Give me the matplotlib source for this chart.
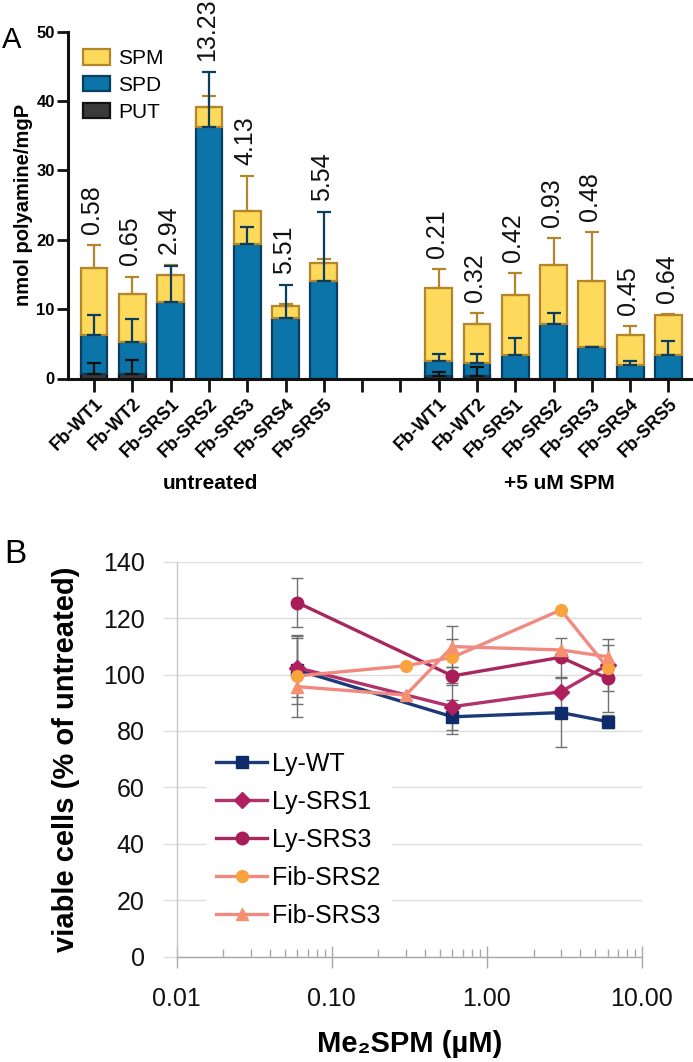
import numpy as np
import matplotlib
matplotlib.use("Agg")
import matplotlib.pyplot as plt
import matplotlib.transforms as mtrans
from matplotlib.patches import Patch
from matplotlib.ticker import FixedLocator, LogLocator, NullFormatter

plt.rcParams['font.family'] = ['Liberation Sans', 'DejaVu Sans']

# ---------------- Panel A data ----------------
cell_lines = ["Fb-WT1", "Fb-WT2", "Fb-SRS1", "Fb-SRS2", "Fb-SRS3", "Fb-SRS4", "Fb-SRS5"]
groups = ["untreated", "+5 uM SPM"]

put_untreated = [0.6, 0.7, 0.0, 0.0, 0.0, 0.0, 0.0]
spd_untreated = [5.6, 4.6, 11.1, 36.3, 19.4, 8.7, 14.1]
spm_untreated = [9.7, 6.9, 3.8, 2.8, 4.8, 1.7, 2.5]
put_err_untreated = [1.7, 2.0, 0.0, 0.0, 0.0, 0.0, 0.0]
spd_err_untreated = [2.9, 3.3, 5.1, 7.9, 2.5, 4.8, 9.9]
spm_err_untreated = [3.4, 2.5, 1.5, 1.7, 5.0, 0.3, 0.7]
ratio_untreated = ["0.58", "0.65", "2.94", "13.23", "4.13", "5.51", "5.54"]

put_treated = [0.3, 0.4, 0.0, 0.0, 0.0, 0.0, 0.0]
spd_treated = [2.2, 1.8, 3.4, 7.8, 4.5, 1.9, 3.4]
spm_treated = [10.6, 5.7, 8.7, 8.5, 9.5, 4.4, 5.7]
put_err_treated = [0.7, 1.2, 0.0, 0.0, 0.0, 0.0, 0.0]
spd_err_treated = [1.1, 1.4, 2.4, 1.6, 0.1, 0.6, 2.0]
spm_err_treated = [2.7, 1.5, 3.1, 4.0, 7.1, 1.2, 0.2]
ratio_treated = ["0.21", "0.32", "0.42", "0.93", "0.48", "0.45", "0.64"]

# ---------------- Panel B data ----------------
dose_ly = [0.06, 0.6, 3, 6]
dose_fib = [0.06, 0.3, 0.6, 3, 6]
ly_wt = [101.6, 85.0, 86.5, 83.3]
ly_wt_err = [12.0, 6.0, 12.3, 2.4]
ly_srs1 = [102.4, 88.6, 93.9, 103.4]
ly_srs1_err = [10.4, 8.3, 0.0, 9.2]
ly_srs3 = [125.5, 99.5, 106.1, 98.6]
ly_srs3_err = [8.8, 3.2, 7.0, 11.9]
fib_srs2 = [99.5, 103.1, 106.1, 122.9, 102.4]
fib_srs2_err = [14.5, 0.0, 6.6, 0.0, 0.0]
fib_srs3 = [95.7, 92.7, 109.9, 108.7, 106.3]
fib_srs3_err = [0.0, 0.0, 7.2, 0.0, 0.0]

W, H = 693, 1062
fig = plt.figure(figsize=(W / 100, H / 100), dpi=100)

# ================= Panel A =================
axA = fig.add_axes([68 / W, 1 - 378.5 / H, (W - 68) / W, (378.5 - 31.7) / H])

pos_u = np.arange(len(cell_lines))
pos_t = np.arange(len(cell_lines)) + len(cell_lines) + 2
positions = np.concatenate([pos_u, pos_t])
put = np.array(put_untreated + put_treated)
spd = np.array(spd_untreated + spd_treated)
spm = np.array(spm_untreated + spm_treated)
put_e = np.array(put_err_untreated + put_err_treated)
spd_e = np.array(spd_err_untreated + spd_err_treated)
spm_e = np.array(spm_err_untreated + spm_err_treated)
ratios = ratio_untreated + ratio_treated

c_spm, e_spm = "#fdd95c", "#b3862c"
c_spd, e_spd = "#0b74a8", "#0a3d5e"
c_put, e_put = "#3a3a3a", "#111111"
bw = 0.7
lw = 1.6

axA.bar(positions, put, bw, color=c_put, edgecolor=e_put, linewidth=lw, zorder=2)
axA.bar(positions, spd, bw, bottom=put, color=c_spd, edgecolor=e_spd, linewidth=lw, zorder=2)
axA.bar(positions, spm, bw, bottom=put + spd, color=c_spm, edgecolor=e_spm, linewidth=lw, zorder=2)

top_put = put
top_spd = put + spd
top_spm = put + spd + spm
for tops, errs, col in [(top_spm, spm_e, e_spm), (top_spd, spd_e, e_spd), (top_put, put_e, "#111111")]:
    m = errs > 0
    axA.errorbar(positions[m], tops[m], yerr=[np.zeros(m.sum()), errs[m]], fmt="none",
                 ecolor=col, elinewidth=1.6, capsize=5.2, capthick=1.6, zorder=3)

label_base = np.maximum.reduce([top_spm + spm_e, top_spd + spd_e])
for x, yb, t in zip(positions, label_base, ratios):
    axA.text(x - 0.05, yb + 1.6, t, rotation=90, ha="center", va="bottom", fontsize=18,
             color="#111111", clip_on=False)

axA.set_xlim(-0.68, 15.64)
axA.set_ylim(0, 50)
axA.set_yticks([0, 10, 20, 30, 40, 50])
axA.set_xticks(np.arange(0, 16))
xt_labels = cell_lines + ["", ""] + cell_lines
axA.set_xticklabels(xt_labels, rotation=45, ha="right", va="top", rotation_mode="anchor",
                    fontsize=13, fontweight="bold")
for lab in axA.get_yticklabels():
    lab.set_fontweight("bold")
axA.tick_params(axis="y", labelsize=12, width=2, length=8, pad=1.5, color="#111111")
axA.tick_params(axis="x", width=2, length=9, pad=3, color="#111111")
for s in ["top", "right"]:
    axA.spines[s].set_visible(False)
for s in ["left", "bottom"]:
    axA.spines[s].set_linewidth(2.2)
    axA.spines[s].set_color("#111111")
axA.set_ylabel("nmol polyamine/mgP", fontsize=14.5, fontweight="bold")
axA.yaxis.set_label_coords(-0.056, 0.5)

btr = mtrans.blended_transform_factory(axA.transData, axA.transAxes)
axA.text(pos_u.mean() + 0.05, -0.303, groups[0], transform=btr, ha="center", va="center",
         fontsize=15, fontweight="bold")
axA.text(pos_t.mean() + 0.15, -0.303, groups[1], transform=btr, ha="center", va="center",
         fontsize=15, fontweight="bold")

handles_A = [Patch(facecolor=c_spm, edgecolor=e_spm, linewidth=lw, label="SPM"),
             Patch(facecolor=c_spd, edgecolor=e_spd, linewidth=lw, label="SPD"),
             Patch(facecolor=c_put, edgecolor=e_put, linewidth=lw, label="PUT")]
fig.legend(handles=handles_A, loc="upper left", bbox_to_anchor=(83 / W, 1 - 49 / H),
           bbox_transform=fig.transFigure, frameon=False, fontsize=15, borderpad=0,
           borderaxespad=0, handlelength=1.3, handleheight=0.77, handletextpad=0.4,
           labelspacing=0.38)

fig.text(2 / W, 1 - 48 / H, "A", fontsize=21, ha="left", va="baseline")

# ================= Panel B =================
axB = fig.add_axes([176.7 / W, 1 - 956.5 / H, (642 - 176.7) / W, (956.5 - 561.7) / H])
axB.set_xscale("log")
axB.set_xlim(0.01, 10)
axB.set_ylim(0, 140)

series = [
    ("Ly-WT", dose_ly, ly_wt, ly_wt_err, "#1b3a78", "#0f2b6b", "s", 9.0),
    ("Ly-SRS1", dose_ly, ly_srs1, ly_srs1_err, "#b2336c", "#b01f5e", "D", 8.0),
    ("Ly-SRS3", dose_ly, ly_srs3, ly_srs3_err, "#a9275f", "#a81d58", "o", 9.0),
    ("Fib-SRS2", dose_fib, fib_srs2, fib_srs2_err, "#f08a80", "#f9a33f", "o", 8.5),
    ("Fib-SRS3", dose_fib, fib_srs3, fib_srs3_err, "#f08a80", "#f7906e", "^", 9.0),
]
for name, xd, yd, ed, lc, mc, mk, ms in series:
    xd = np.array(xd, float)
    yd = np.array(yd, float)
    ed = np.array(ed, float)
    m = ed > 0
    axB.errorbar(xd[m], yd[m], yerr=ed[m], fmt="none", ecolor="#707070", elinewidth=1.0,
                 capsize=4.3, capthick=1.0, zorder=2)
for name, xd, yd, ed, lc, mc, mk, ms in series:
    axB.plot(xd, yd, color=lc, lw=2.4, marker=mk, ms=ms, mfc=mc, mec=mc, label=name, zorder=3)

axB.yaxis.set_major_locator(FixedLocator(np.arange(0, 141, 20)))
axB.grid(axis="y", color="#dedede", lw=1.0, zorder=0)
axB.set_axisbelow(True)
axB.set_xticks([0.01, 0.1, 1, 10])
axB.set_xticklabels(["0.01", "0.10", "1.00", "10.00"])
axB.xaxis.set_minor_locator(LogLocator(base=10, subs=np.arange(2, 10)))
axB.xaxis.set_minor_formatter(NullFormatter())
axB.tick_params(axis="x", which="major", direction="inout", length=16, width=1, color="#a8a8a8",
                labelsize=18, pad=14, labelcolor="#111111")
axB.tick_params(axis="x", which="minor", direction="in", length=6, width=1, color="#a8a8a8")
axB.tick_params(axis="y", which="major", direction="out", length=10, width=1, color="#dedede",
                labelsize=18, pad=13, labelcolor="#111111")
for s in ["top", "right"]:
    axB.spines[s].set_visible(False)
axB.spines["left"].set_color("#c8c8c8")
axB.spines["bottom"].set_color("#a8a8a8")
axB.spines["left"].set_linewidth(1)
axB.spines["bottom"].set_linewidth(1)

axB.set_ylabel("viable cells (% of untreated)", fontsize=21, fontweight="bold")
axB.yaxis.set_label_coords(-0.207, 0.5)
axB.set_xlabel("Me\u2082SPM (\u00b5M)", fontsize=21, fontweight="bold")
axB.xaxis.set_label_coords(0.5, -0.185)

legB = axB.legend(loc="upper left", bbox_to_anchor=(206 / W, 1 - 742 / H),
                  bbox_transform=fig.transFigure, fontsize=18, frameon=True, fancybox=False,
                  framealpha=1, edgecolor="white", facecolor="white", borderpad=0.4,
                  borderaxespad=0, handlelength=2.05, handletextpad=0.2, labelspacing=0.56)
legB.set_zorder(5)

fig.text(4 / W, 1 - 563 / H, "B", fontsize=24, ha="left", va="baseline")

fig.savefig("out.png", dpi=100)
